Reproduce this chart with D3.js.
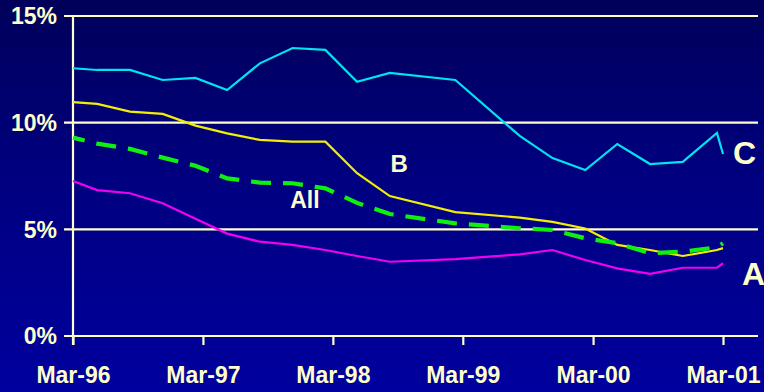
<!DOCTYPE html>
<html>
<head>
<meta charset="utf-8">
<script src="https://cdn.jsdelivr.net/npm/d3@7/dist/d3.min.js"></script>
<style>
  html, body { margin: 0; padding: 0; background: #000080; }
  svg { display: block; }
</style>
</head>
<body>
<svg id="chart" width="764" height="392"></svg>
<script>
// Observation dates (quarterly readings, Mar-96 to Mar-01)
const dates = [
  "1996-03-01", "1996-05-08", "1996-08-08", "1996-11-08", "1997-02-08",
  "1997-05-08", "1997-08-08", "1997-11-08", "1998-02-08", "1998-05-08",
  "1998-08-08", "1999-02-08", "1999-08-08", "1999-11-08", "2000-02-08",
  "2000-05-08", "2000-08-08", "2000-11-08", "2001-02-12", "2001-03-01"
];

// Rates in percent
const seriesC   = [12.55, 12.47, 12.47, 12.0, 12.1, 11.53, 12.78, 13.5, 13.41, 11.92,
                   12.33, 12.0, 9.38, 8.34, 7.78, 9.0, 8.06, 8.16, 9.52, 8.53];
const seriesB   = [10.96, 10.88, 10.52, 10.41, 9.86, 9.5, 9.19, 9.11, 9.11, 7.63,
                   6.56, 5.81, 5.55, 5.35, 5.04, 4.27, 4.03, 3.75, 4.03, 4.12];
const seriesAll = [9.3, 9.02, 8.77, 8.36, 7.98, 7.39, 7.19, 7.16, 6.92, 6.24,
                   5.72, 5.28, 5.05, 4.97, 4.58, 4.35, 3.88, 3.95, 4.16, 4.35];
const seriesA   = [7.27, 6.84, 6.69, 6.22, 5.5, 4.8, 4.42, 4.27, 4.03, 3.75,
                   3.48, 3.6, 3.83, 4.03, 3.56, 3.17, 2.91, 3.2, 3.2, 3.41];

const yTicks = [0, 5, 10, 15];
const xTickDates = ["1996-03-01", "1997-03-01", "1998-03-01", "1999-03-01", "2000-03-01", "2001-03-01"];

// Series names placed beside their lines
const seriesLabels = [
  { text: "C",   date: "2001-03-01", value: 8.06, dx: 10, size: 32 },
  { text: "B",   date: "1998-08-10", value: 7.69, dx: 0,  size: 24 },
  { text: "All", date: "1997-11-01", value: 6.0,  dx: 0,  size: 23 },
  { text: "A",   date: "2001-03-01", value: 2.39, dx: 19, size: 32 }
];

const parse = d3.timeParse("%Y-%m-%d");
const cream = "#FFFFCC";
const font = "'Liberation Sans', Arial, sans-serif";

const svg = d3.select("#chart");

// Background: dark navy getting lighter towards the bottom
const defs = svg.append("defs");
const grad = defs.append("linearGradient")
  .attr("id", "bg").attr("x1", 0).attr("y1", 0).attr("x2", 0).attr("y2", 1);
grad.append("stop").attr("offset", "0%").attr("stop-color", "#00005A");
grad.append("stop").attr("offset", "45%").attr("stop-color", "#000080");
grad.append("stop").attr("offset", "100%").attr("stop-color", "#00009E");
svg.append("rect").attr("width", 764).attr("height", 392).attr("fill", "url(#bg)");

const x = d3.scaleTime()
  .domain([parse("1996-03-01"), parse("2001-03-01")])
  .range([73, 723]);
const y = d3.scaleLinear().domain([0, 15]).range([336, 16]);

// Horizontal gridlines with their left tick stubs
svg.append("g")
  .selectAll("line")
  .data(yTicks)
  .join("line")
  .attr("x1", 64).attr("x2", 758)
  .attr("y1", d => y(d)).attr("y2", d => y(d))
  .attr("stroke", cream).attr("stroke-width", 2.2);

// Y axis line
svg.append("line")
  .attr("x1", x.range()[0]).attr("x2", x.range()[0])
  .attr("y1", y(15)).attr("y2", 345)
  .attr("stroke", cream).attr("stroke-width", 2.2);

// Y tick labels
svg.append("g")
  .selectAll("text")
  .data(yTicks)
  .join("text")
  .attr("x", 57)
  .attr("y", d => y(d))
  .attr("dy", "0.36em")
  .attr("text-anchor", "end")
  .attr("fill", cream)
  .attr("font-family", font)
  .attr("font-weight", "bold")
  .attr("font-size", 23)
  .text(d => d + "%");

// X axis ticks and labels
const xAxis = d3.axisBottom(x)
  .tickValues(xTickDates.map(parse))
  .tickFormat(d3.timeFormat("%b-%y"))
  .tickSize(9)
  .tickSizeOuter(0)
  .tickPadding(22);
const gx = svg.append("g").attr("transform", `translate(0,${y(0)})`).call(xAxis);
gx.select(".domain").remove();
gx.selectAll(".tick line").attr("stroke", cream).attr("stroke-width", 2.2);
gx.selectAll(".tick text")
  .attr("fill", cream)
  .attr("font-family", font)
  .attr("font-weight", "bold")
  .attr("font-size", 23);

// Series lines
const pts = vals => vals.map((v, i) => [parse(dates[i]), v]);
const line = d3.line().x(d => x(d[0])).y(d => y(d[1]));

const series = [
  { values: seriesC,   color: "#00E4F0", width: 2.2, dash: null },
  { values: seriesB,   color: "#F2F000", width: 2.2, dash: null },
  { values: seriesA,   color: "#F000F0", width: 2.2, dash: null },
  { values: seriesAll, color: "#10F010", width: 4.2, dash: "20,12" }
];

svg.append("g")
  .selectAll("path")
  .data(series)
  .join("path")
  .attr("d", s => line(pts(s.values)))
  .attr("fill", "none")
  .attr("stroke", s => s.color)
  .attr("stroke-width", s => s.width)
  .attr("stroke-dasharray", s => s.dash)
  .attr("stroke-dashoffset", s => s.dash ? 8 : null)
  .attr("stroke-linejoin", "miter");

// Series names
svg.append("g")
  .selectAll("text")
  .data(seriesLabels)
  .join("text")
  .attr("x", d => x(parse(d.date)) + d.dx)
  .attr("y", d => y(d.value))
  .attr("fill", cream)
  .attr("font-family", font)
  .attr("font-weight", "bold")
  .attr("font-size", d => d.size)
  .text(d => d.text);
</script>
</body>
</html>
